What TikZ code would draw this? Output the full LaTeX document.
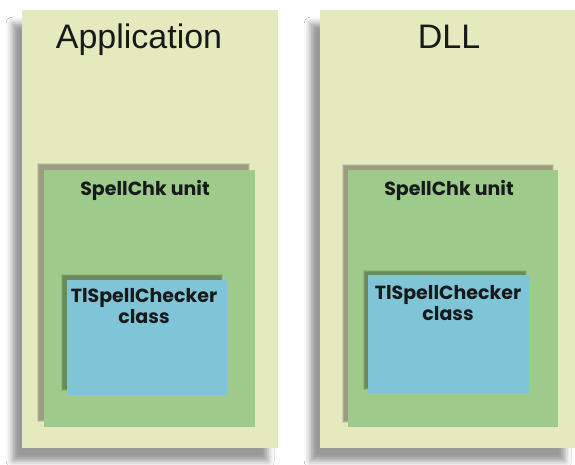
\documentclass[tikz,border=0pt]{standalone}
\usepackage{fontspec}
\setmainfont{Liberation Sans}
\newfontfamily\geofont{Poppins}
\usetikzlibrary{shadows.blur,calc}
\definecolor{paleback}{HTML}{E4E9BE}
\definecolor{unitgreen}{HTML}{9ECA8B}
\definecolor{classblue}{HTML}{80C4D8}
\definecolor{inkdark}{HTML}{161A1A}
\tikzset{
  container/.style={fill=paleback, draw=none, inner sep=0pt, anchor=north west,
    blur shadow={shadow xshift=-10pt, shadow yshift=-13pt, shadow blur radius=6pt, shadow opacity=40}},
  unitbox/.style={fill=unitgreen, draw=none, inner sep=0pt, anchor=north west},
  classbox/.style={fill=classblue, draw=none, inner sep=0pt, anchor=north west},
  softlayer/.style={fill=black, fill opacity=0.09, draw=none},
  title/.style={anchor=base, inner sep=0pt, text=inkdark, font=\fontsize{34}{38}\selectfont},
  label/.style={anchor=base, inner sep=0pt, text=inkdark, align=center,
    font=\geofont\bfseries\fontsize{19}{21}\selectfont},
}
% soft shadow: stacked translucent rectangles around a shifted copy of the box
\newcommand\softshade[5]{% corner NW (x,y), corner SE (x,y) as #1..#4, shift #5
  \foreach \g in {0,1,2,3} {
    \fill[softlayer] (#1-#5-\g*0.8+1.2, #2-#5-\g*0.8+1.2) rectangle (#3-#5+\g*0.8-1.2, #4-#5+\g*0.8-1.2);
  }
}
\begin{document}
\begin{tikzpicture}[x=1pt, y=-1pt]
  \fill[white] (0,0) rectangle (575,465);
  \useasboundingbox (0,0) rectangle (575,465);

  % outer containers
  \node[container, minimum width=256pt, minimum height=438pt] (app) at (22,10) {};
  \node[container, minimum width=255pt, minimum height=438pt] (dll) at (320,10) {};
  \node[title] (apptitle) at (139,49) {Application};
  \node[title] (dlltitle) at (449,49) {DLL};

  % unit boxes with their shadows up and to the left
  \softshade{44}{170}{255}{427}{6}
  \softshade{348}{170}{558}{427}{5}
  \node[unitbox, minimum width=211pt, minimum height=257pt] (appunit) at (44,170) {};
  \node[unitbox, minimum width=210pt, minimum height=257pt] (dllunit) at (348,170) {};
  \node[label] (appunitlbl) at (145,195) {SpellChk unit};
  \node[label] (dllunitlbl) at (449,195) {SpellChk unit};

  % class boxes (the base anchor of a two-line label sits on its last line)
  \softshade{67}{280}{227}{395}{5}
  \softshade{368}{275}{530}{393}{4}
  \node[classbox, minimum width=160pt, minimum height=115pt] (appclass) at (67,280) {};
  \node[classbox, minimum width=162pt, minimum height=118pt] (dllclass) at (368,275) {};
  \node[label] (appclasslbl) at (144,323) {TlSpellChecker\\class};
  \node[label] (dllclasslbl) at (448,320) {TlSpellChecker\\class};
\end{tikzpicture}
\end{document}
